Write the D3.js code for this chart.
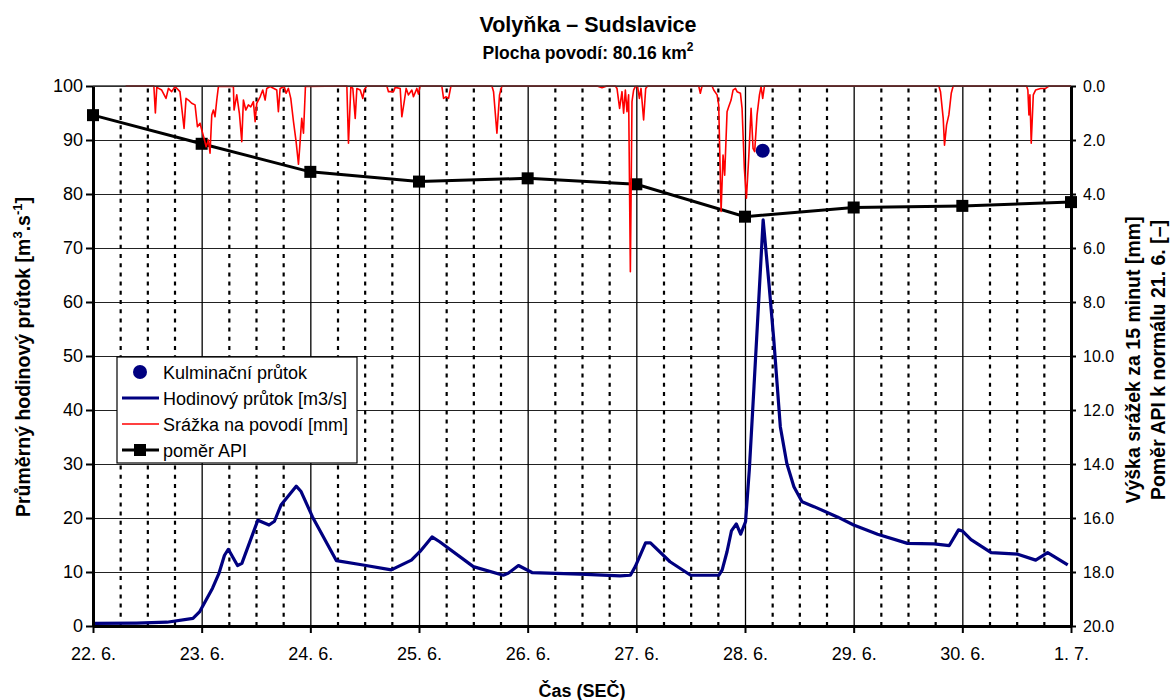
<!DOCTYPE html>
<html>
<head>
<meta charset="utf-8">
<script src="https://cdn.jsdelivr.net/npm/d3@7"></script>
<style>
  html, body { margin: 0; padding: 0; background: #fff; }
  svg { display: block; font-family: "Liberation Sans", Arial, sans-serif; }
</style>
</head>
<body>
<svg id="chart" width="1172" height="700"></svg>
<script>
// Day labels on the time axis (22. 6. – 1. 7.), positions are days from 22. 6. 00:00
const dayLabels = ["22. 6.", "23. 6.", "24. 6.", "25. 6.", "26. 6.", "27. 6.", "28. 6.", "29. 6.", "30. 6.", "1. 7."];
const flowTicks = [0, 10, 20, 30, 40, 50, 60, 70, 80, 90, 100];
const rainTicks = [0, 2, 4, 6, 8, 10, 12, 14, 16, 18, 20];

// Hourly discharge [m3/s]
const flowTime = [0, 0.4, 0.68, 0.92, 0.98, 1.10, 1.16, 1.21, 1.245, 1.33, 1.37, 1.517, 1.62, 1.67, 1.73, 1.87, 1.915, 2.02, 2.24, 2.485, 2.745, 2.93, 3.01, 3.12, 3.19, 3.50, 3.775, 3.82, 3.915, 4.04, 4.48, 4.85, 4.945, 4.99, 5.085, 5.13, 5.31, 5.50, 5.76, 5.79, 5.835, 5.875, 5.92, 5.96, 6.005, 6.04, 6.083, 6.125, 6.167, 6.22, 6.265, 6.325, 6.385, 6.45, 6.525, 6.635, 6.85, 7.00, 7.22, 7.495, 7.74, 7.88, 7.965, 8.00, 8.08, 8.265, 8.51, 8.675, 8.785, 8.97];
const flowValue = [0.5, 0.55, 0.7, 1.4, 2.6, 7.0, 9.8, 13.1, 14.2, 11.2, 11.6, 19.6, 18.7, 19.4, 22.4, 25.9, 24.9, 20.2, 12.1, 11.3, 10.4, 12.2, 13.8, 16.5, 15.6, 11.0, 9.4, 9.75, 11.2, 9.9, 9.6, 9.3, 9.4, 11.0, 15.4, 15.4, 11.9, 9.4, 9.4, 10.4, 13.8, 17.6, 18.9, 17.0, 19.3, 29.0, 44.4, 59.8, 75.2, 63.5, 53.0, 36.9, 30.1, 25.8, 23.0, 22.1, 20.2, 18.7, 17.0, 15.3, 15.2, 14.9, 17.8, 17.6, 16.0, 13.6, 13.3, 12.2, 13.6, 11.3];

// Peak discharge
const peakTime = [6.163];
const peakValue = [88.0];

// 15-minute catchment rainfall [mm]
const rainTime = [0.30, 0.56, 0.574, 0.587, 0.632, 0.672, 0.694, 0.724, 0.755, 0.80, 0.838, 0.856, 0.878, 0.908, 0.939, 0.961, 0.985, 1.001, 1.022, 1.041, 1.062, 1.077, 1.093, 1.108, 1.123, 1.139, 1.154, 1.292, 1.298, 1.323, 1.347, 1.369, 1.384, 1.406, 1.430, 1.452, 1.476, 1.492, 1.507, 1.538, 1.562, 1.584, 1.599, 1.630, 1.691, 1.706, 1.722, 1.759, 1.777, 1.798, 1.820, 1.845, 1.869, 1.891, 1.906, 1.921, 1.937, 1.955, 2.336, 2.351, 2.373, 2.391, 2.413, 2.428, 2.459, 2.483, 2.495, 2.52, 2.704, 2.719, 2.765, 2.781, 2.827, 2.842, 2.864, 2.882, 2.903, 2.934, 2.949, 2.980, 2.995, 3.01, 3.210, 3.226, 3.250, 3.272, 3.294, 3.671, 3.686, 3.717, 3.741, 3.763, 4.638, 4.684, 4.730, 4.807, 4.822, 4.846, 4.868, 4.883, 4.899, 4.914, 4.929, 4.945, 4.960, 4.975, 4.991, 5.012, 5.028, 5.043, 5.067, 5.086, 5.104, 5.574, 5.589, 5.605, 5.697, 5.712, 5.743, 5.758, 5.780, 5.798, 5.813, 5.835, 5.850, 5.872, 5.890, 5.912, 5.927, 5.958, 5.973, 5.994, 6.013, 6.034, 6.056, 6.074, 6.089, 6.111, 6.133, 6.148, 6.163, 6.179, 7.784, 7.799, 7.824, 7.836, 7.855, 7.876, 7.898, 7.916, 8.591, 8.603, 8.613, 8.622, 8.634, 8.653, 8.674, 8.720, 8.766, 8.797, 9.0];
const rainValue = [0, 0, 1.0, 0.05, 0.15, 0.46, 0.09, 0.21, 0.02, 0.21, 1.57, 0.46, 0.52, 0.64, 0.70, 1.51, 1.38, 1.63, 1.94, 2.25, 2.0, 2.49, 1.07, 0.89, 1.14, 0.52, 0.02, 0.02, 0.89, 0.33, 1.01, 2.06, 0.52, 0.89, 0.70, 0.77, 0.58, 1.32, 0.64, 0.40, 0.15, 0.52, 0.09, 0.02, 0.15, 0.95, 0.09, 0.02, 0.27, 0.09, 0.46, 1.32, 2.06, 2.90, 2.06, 1.20, 1.75, 0.02, 0, 2.12, 0.02, 0.09, 1.20, 0.09, 0.15, 0.46, 0.15, 0, 0, 0.21, 0.21, 0.05, 0.09, 1.14, 0.58, 0.09, 0.33, 0.15, 0.40, 0.09, 0.30, 0, 0, 0.46, 0.40, 0.46, 0, 0, 0.21, 1.75, 0.33, 0, 0, 0.06, 0, 0, 0.09, 0.83, 0.21, 1.01, 0.15, 0.95, 0.33, 6.88, 0.58, 0.15, 0.02, 0.02, 0.46, 0.09, 1.26, 0.09, 0, 0, 0.27, 0, 0, 0.15, 0.33, 0.70, 4.65, 2.56, 3.30, 0.95, 0.77, 0.52, 0.15, 0.09, 0.21, 0.27, 0.83, 3.05, 4.16, 2.68, 0.83, 2.31, 2.43, 1.07, 0.33, 0.02, 0.46, 0, 0, 0.21, 1.20, 2.19, 1.44, 1.07, 0.27, 0, 0, 0.15, 1.07, 0.33, 2.12, 0.33, 0.15, 0.09, 0.09, 0, 0];

// Daily API ratio to the 21. 6. normal (plotted against the discharge axis)
const apiTime = [0, 1, 2, 3, 4, 5, 6, 7, 8, 9];
const apiValue = [94.6, 89.3, 84.1, 82.3, 82.9, 81.8, 75.8, 77.5, 77.8, 78.5];

const svg = d3.select("#chart");
const plotLeft = 93, plotRight = 1071, plotTop = 86, plotBottom = 626;

const x = d3.scaleLinear().domain([0, 9]).range([plotLeft, plotRight]);
const yQ = d3.scaleLinear().domain([0, 100]).range([plotBottom, plotTop]);
const yR = d3.scaleLinear().domain([0, 20]).range([plotTop, plotBottom]);

// Horizontal grid
svg.append("g")
  .attr("transform", `translate(${plotLeft},0)`)
  .call(d3.axisLeft(yQ).tickValues(flowTicks).tickSize(-(plotRight - plotLeft)).tickFormat(""))
  .call(g => g.select(".domain").remove())
  .call(g => g.selectAll("line").attr("stroke", "#222").attr("stroke-width", 1.2));

// Day grid (solid) and 6-hour grid (dotted)
const quarterDays = d3.range(0, 36).map(i => i / 4).filter(d => d % 1 !== 0);
svg.append("g")
  .attr("transform", `translate(0,${plotBottom})`)
  .call(d3.axisBottom(x).tickValues(quarterDays).tickSize(-(plotBottom - plotTop)).tickFormat(""))
  .call(g => g.select(".domain").remove())
  .call(g => g.selectAll("line").attr("stroke", "#000").attr("stroke-width", 2.2).attr("stroke-dasharray", "4,5.2"));
svg.append("g")
  .attr("transform", `translate(0,${plotBottom})`)
  .call(d3.axisBottom(x).tickValues(d3.range(1, 9)).tickSize(-(plotBottom - plotTop)).tickFormat(""))
  .call(g => g.select(".domain").remove())
  .call(g => g.selectAll("line").attr("stroke", "#000").attr("stroke-width", 1.3));

// Discharge
const flowLine = d3.line().x((d, i) => x(flowTime[i])).y(d => yQ(d));
svg.append("path")
  .attr("d", flowLine(flowValue))
  .attr("fill", "none").attr("stroke", "#000080").attr("stroke-width", 3.2)
  .attr("stroke-linejoin", "round");

// API ratio
const apiLine = d3.line().x((d, i) => x(apiTime[i])).y(d => yQ(d));
svg.append("path")
  .attr("d", apiLine(apiValue))
  .attr("fill", "none").attr("stroke", "#000").attr("stroke-width", 3);
svg.append("g").selectAll("rect").data(apiValue).join("rect")
  .attr("x", (d, i) => x(apiTime[i]) - 6).attr("y", d => yQ(d) - 6)
  .attr("width", 12).attr("height", 12).attr("fill", "#000");

// Rainfall
const rainLine = d3.line().x((d, i) => x(rainTime[i])).y(d => yR(d));
svg.append("path")
  .attr("d", rainLine(rainValue))
  .attr("fill", "none").attr("stroke", "#ff0000").attr("stroke-width", 1.6)
  .attr("stroke-linejoin", "round");

// Peak discharge marker
svg.append("g").selectAll("circle").data(peakValue).join("circle")
  .attr("cx", (d, i) => x(peakTime[i])).attr("cy", d => yQ(d))
  .attr("r", 7).attr("fill", "#000080");

// Axes
const axisStyle = g => {
  g.select(".domain").attr("stroke", "#000").attr("stroke-width", 3);
  g.selectAll(".tick line").attr("stroke", "#000").attr("stroke-width", 2);
  g.selectAll("text").attr("fill", "#000").attr("font-size", 18)
    .attr("font-family", "'Liberation Sans', Arial, sans-serif");
};
svg.append("g")
  .attr("transform", `translate(${plotLeft},0)`)
  .call(d3.axisLeft(yQ).tickValues(flowTicks).tickSize(7).tickSizeOuter(0).tickPadding(3))
  .call(axisStyle);
svg.append("g")
  .attr("transform", `translate(${plotRight},0)`)
  .call(d3.axisRight(yR).tickValues(rainTicks).tickSize(5).tickSizeOuter(0).tickPadding(7).tickFormat(d3.format(".1f")))
  .call(axisStyle)
  .call(g => g.selectAll("text").attr("font-size", 16));
svg.append("g")
  .attr("transform", `translate(0,${plotBottom})`)
  .call(d3.axisBottom(x).tickValues(d3.range(0, 10)).tickSize(7).tickSizeOuter(0).tickPadding(14).tickFormat(i => dayLabels[i]))
  .call(axisStyle);
// Top frame line
svg.append("line").attr("x1", plotLeft).attr("x2", plotRight).attr("y1", plotTop).attr("y2", plotTop)
  .attr("stroke", "#333").attr("stroke-width", 1.5);

// Titles
svg.append("text").attr("x", 588).attr("y", 32).attr("text-anchor", "middle")
  .attr("font-size", 21.5).attr("font-weight", "bold").text("Volyňka – Sudslavice");
const sub = svg.append("text").attr("x", 588).attr("y", 59).attr("text-anchor", "middle")
  .attr("font-size", 17.5).attr("font-weight", "bold");
sub.append("tspan").text("Plocha povodí: 80.16 km");
sub.append("tspan").attr("dy", -8).attr("font-size", 12).text("2");

svg.append("text").attr("x", 582).attr("y", 697).attr("text-anchor", "middle")
  .attr("font-size", 18).attr("font-weight", "bold").text("Čas (SEČ)");

const yt = svg.append("text").attr("transform", "translate(30,357) rotate(-90)")
  .attr("text-anchor", "middle").attr("font-size", 19.5).attr("font-weight", "bold");
yt.append("tspan").text("Průměrný hodinový průtok [m");
yt.append("tspan").attr("dy", -8).attr("font-size", 13).text("3");
yt.append("tspan").attr("dy", 8).text(".s");
yt.append("tspan").attr("dy", -8).attr("font-size", 13).text("-1");
yt.append("tspan").attr("dy", 8).text("]");

svg.append("text").attr("transform", "translate(1140,360) rotate(-90)")
  .attr("text-anchor", "middle").attr("font-size", 19.5).attr("font-weight", "bold")
  .text("Výška srážek za 15 minut [mm]");
svg.append("text").attr("transform", "translate(1165,360) rotate(-90)")
  .attr("text-anchor", "middle").attr("font-size", 19.5).attr("font-weight", "bold")
  .text("Poměr API k normálu 21. 6. [–]");

// Legend
const lg = svg.append("g");
lg.append("rect").attr("x", 117).attr("y", 357).attr("width", 240).attr("height", 106)
  .attr("fill", "#fff").attr("stroke", "#000").attr("stroke-width", 1.2);
const legendItems = ["Kulminační průtok", "Hodinový průtok [m3/s]", "Srážka na povodí [mm]", "poměr API"];
const rowY = i => 372 + i * 26;
lg.selectAll("text").data(legendItems).join("text")
  .attr("x", 163).attr("y", (d, i) => rowY(i) + 6.5).attr("font-size", 18).text(d => d);
lg.append("circle").attr("cx", 140).attr("cy", rowY(0)).attr("r", 7).attr("fill", "#000080");
lg.append("line").attr("x1", 122).attr("x2", 159).attr("y1", rowY(1)).attr("y2", rowY(1))
  .attr("stroke", "#000080").attr("stroke-width", 3.2);
lg.append("line").attr("x1", 122).attr("x2", 159).attr("y1", rowY(2)).attr("y2", rowY(2))
  .attr("stroke", "#ff0000").attr("stroke-width", 1.6);
lg.append("line").attr("x1", 122).attr("x2", 159).attr("y1", rowY(3)).attr("y2", rowY(3))
  .attr("stroke", "#000").attr("stroke-width", 3);
lg.append("rect").attr("x", 134).attr("y", rowY(3) - 6).attr("width", 12).attr("height", 12).attr("fill", "#000");
</script>
</body>
</html>
